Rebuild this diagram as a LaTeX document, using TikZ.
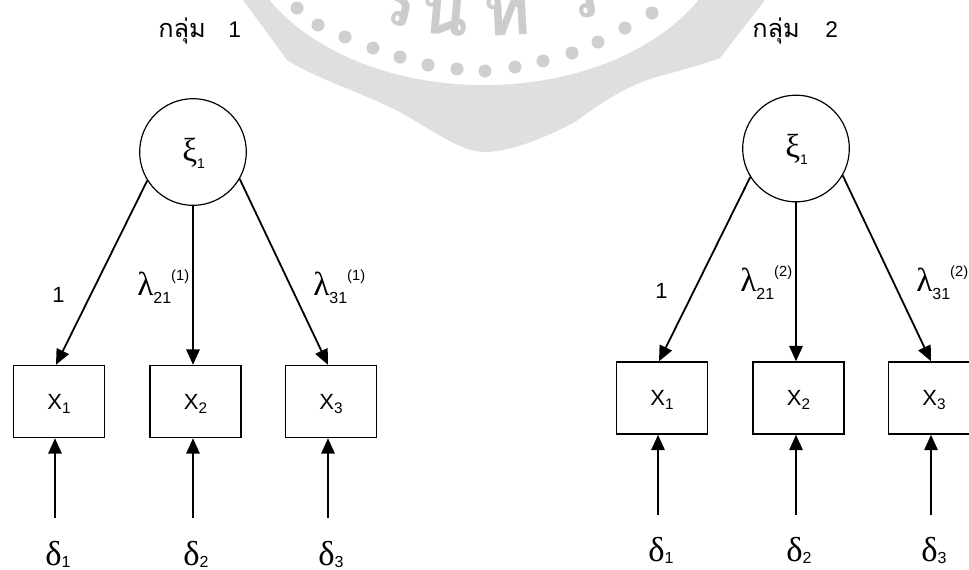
\documentclass[tikz,border=0pt]{standalone}
\usepackage{fontspec}
\setmainfont{Liberation Sans}
\newfontfamily\grkfont{Liberation Serif}
\newfontfamily\thaifont[Script=Thai]{Loma}
\usetikzlibrary{arrows.meta}
\newcommand\gletter[2]{{\grkfont\fontsize{#1}{#1}\selectfont #2}}
\newcommand\ssz[2]{{\fontsize{#1}{#1}\selectfont #2}}
\newcommand\drawgroup[3]{%
\begin{scope}[shift={#2}]
 \node[lat] (xi#1) at (193,152) {};
 \node[lbl] (xil#1) at (182,161) {\gletter{25}{ξ}\raisebox{-5.5pt}{\ssz{10.5}{1}}};
 \node[obs] (xa#1) at (59,401.5) {X\raisebox{-3pt}{\ssz{11.5}{1}}};
 \node[obs] (xb#1) at (195.5,401.5) {X\raisebox{-3pt}{\ssz{11.5}{2}}};
 \node[obs] (xc#1) at (331,401.5) {X\raisebox{-3pt}{\ssz{11.5}{3}}};
 \coordinate (ta#1) at ([xshift=-2.25pt]xa#1.north);
 \coordinate (tc#1) at ([xshift=-2.25pt]xc#1.north);
 \draw[arr] (xi#1.212) -- (ta#1);
 \draw[arr] (xi#1.south) -- (xi#1.south |- xb#1.north);
 \draw[arr] (xi#1.330) -- (tc#1);
 \coordinate (ea#1) at (55,518);
 \coordinate (eb#1) at (193,518);
 \coordinate (ec#1) at (328,518);
 \draw[arr] (ea#1) -- (ea#1 |- xa#1.south);
 \draw[arr] (eb#1) -- (eb#1 |- xb#1.south);
 \draw[arr] (ec#1) -- (ec#1 |- xc#1.south);
 \node[lbl] (one#1) at (52,302) {\ssz{16.5}{1}};
 \node[lbl] (lb#1) at (137,295) {\gletter{25}{λ}\raisebox{-6pt}{\ssz{12}{21}}\raisebox{11pt}{\ssz{11}{(#3)}}};
 \node[lbl] (lc#1) at (313,295) {\gletter{25}{λ}\raisebox{-6pt}{\ssz{12}{31}}\raisebox{11pt}{\ssz{11}{(#3)}}};
 \node[lbl] (da#1) at (45,565) {\gletter{26}{δ}\raisebox{-1.5pt}{\ssz{12}{1}}};
 \node[lbl] (db#1) at (183,565) {\gletter{26}{δ}\raisebox{-1.5pt}{\ssz{12}{2}}};
 \node[lbl] (dc#1) at (318,565) {\gletter{26}{δ}\raisebox{-1.5pt}{\ssz{12}{3}}};
\end{scope}}
\begin{document}
\begin{tikzpicture}[x=0.75pt,y=-0.75pt,
  arr/.style={line width=1.35pt,-{Triangle[length=11.5pt,width=10pt]}},
  obs/.style={draw,line width=1.1pt,minimum width=68.5pt,minimum height=54pt,inner sep=0pt,
    text height=11.5pt,text depth=0pt,font=\fontsize{16.5}{16.5}\selectfont},
  lat/.style={draw,circle,line width=0.9pt,minimum size=80pt,inner sep=0pt},
  lbl/.style={anchor=base west,inner sep=0pt},
  wm/.style={fill=gray!25},
  wmdot/.style={fill=gray!38},
  wmtxt/.style={text=gray!40,inner sep=0pt,anchor=base,font=\thaifont\bfseries\fontsize{54}{54}\selectfont}]
\useasboundingbox (0,0) rectangle (969,569);
\clip (0,0) rectangle (969,569);
% watermark
\fill[wm] (243,0) -- (287,60) .. controls (315,78) and (360,92) .. (400,112)
  .. controls (435,132) and (462,152) .. (484,152)
  .. controls (510,152) and (545,138) .. (575,122)
  .. controls (605,100) and (630,84) .. (660,76)
  .. controls (690,68) and (710,62) .. (720,58) -- (765,0) -- cycle;
\fill[white] (484,-80) ellipse [x radius=245, y radius=165];
\foreach \px/\py in {297/8,318/25,345/37,373/48,400/57,428/65,457/69,485/71,515/67,543/61,572/53,598/42,625/28,652/13}
  \fill[wmdot] (\px,\py) circle [radius=6.5];
\node[wmtxt,rotate=-12] (wa) at (392,25) {ร};
\node[wmtxt,rotate=-5] (wb) at (443,35) {น};
\node[wmtxt,rotate=3] (wc) at (508,35) {ท};
\node[wmtxt,rotate=12] (wd) at (583,18) {ร};
% titles
\node[lbl] (t1) at (158,37) {\thaifont\fontsize{19}{19}\selectfont กลุ่ม};
\node[lbl] (t1n) at (228,37) {\ssz{17}{1}};
\node[lbl] (t2) at (752,37) {\thaifont\fontsize{19}{19}\selectfont กลุ่ม};
\node[lbl] (t2n) at (825,37) {\ssz{17}{2}};
\drawgroup{L}{(0,0)}{1}
\drawgroup{R}{(603,-3.5)}{2}
\end{tikzpicture}
\end{document}
